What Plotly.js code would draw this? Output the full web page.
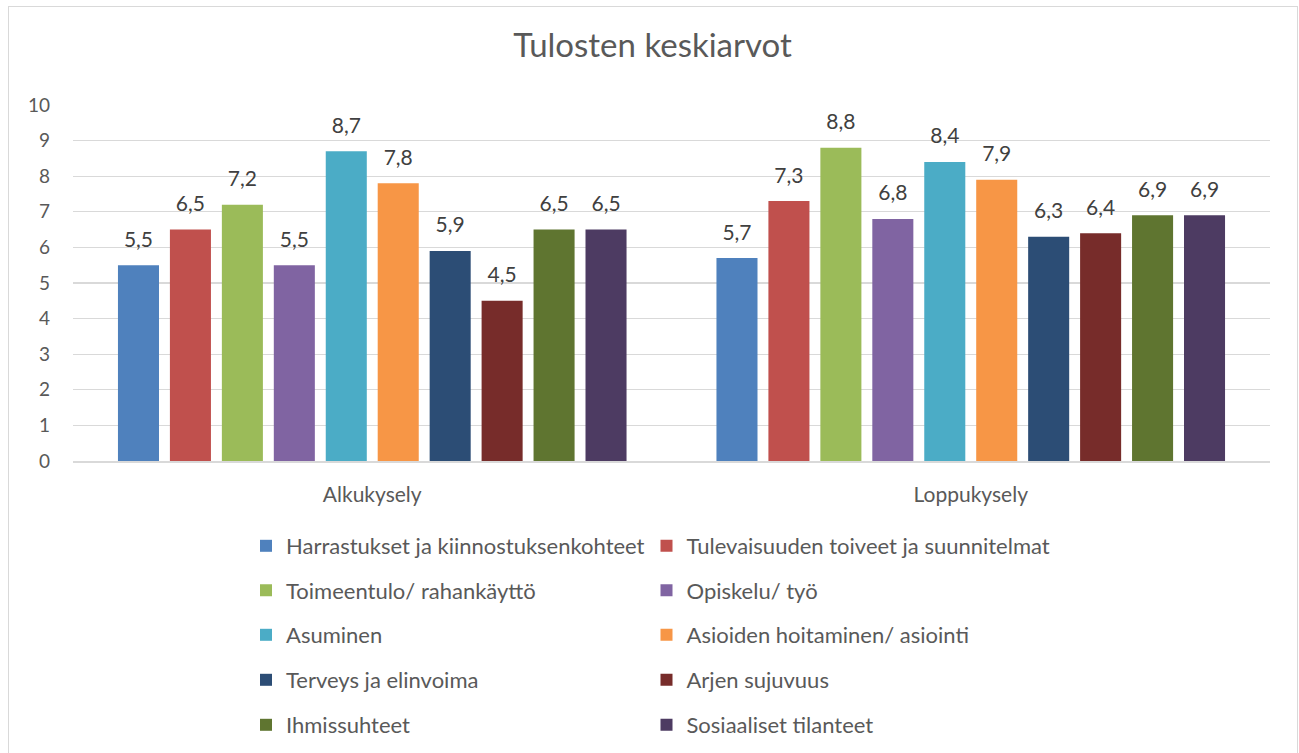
<!DOCTYPE html>
<html>
<head>
<meta charset="utf-8">
<script src="https://cdn.plot.ly/plotly-3.0.1.min.js"></script>
<style>
  html, body { margin: 0; padding: 0; background: #ffffff; overflow: hidden; }
  #wrap { position: relative; width: 1299px; height: 753px; }
  #chart { position: absolute; left: 0; top: 0; width: 1299px; height: 753px; }
  #frame { position: absolute; left: 8px; top: 6px; width: 1290px; height: 770px;
           border: 1.5px solid #d9d9d9; pointer-events: none; box-sizing: border-box; }
</style>
</head>
<body>
<div id="wrap">
  <div id="chart"></div>
  <div id="frame"></div>
</div>
<script>
const categories = ['Alkukysely', 'Loppukysely'];
const seriesNames = [
  'Harrastukset ja kiinnostuksenkohteet',
  'Tulevaisuuden toiveet ja suunnitelmat',
  'Toimeentulo/ rahankäyttö',
  'Opiskelu/ työ',
  'Asuminen',
  'Asioiden hoitaminen/ asiointi',
  'Terveys ja elinvoima',
  'Arjen sujuvuus',
  'Ihmissuhteet',
  'Sosiaaliset tilanteet'
];
const alkukysely  = [5.5, 6.5, 7.2, 5.5, 8.7, 7.8, 5.9, 4.5, 6.5, 6.5];
const loppukysely = [5.7, 7.3, 8.8, 6.8, 8.4, 7.9, 6.3, 6.4, 6.9, 6.9];
const seriesColors = ['#4F81BD', '#C0504D', '#9BBB59', '#8064A2', '#4BACC6',
                      '#F79646', '#2C4D75', '#772C2A', '#5F7530', '#4D3B62'];
const yTicks = [0, 1, 2, 3, 4, 5, 6, 7, 8, 9, 10];

const FONT = 'Lato, "Noto Sans", sans-serif';
const W = 1299, H = 753;

function fmt(v) { return v.toFixed(1).replace('.', ','); }
function label(v) {
  return '<span style="font-size:21px">' + fmt(v) + '</span><br>' +
         '<span style="font-size:3px;color:rgba(0,0,0,0)">.</span>';
}

// legend layout: two columns, five rows
const colLeft = [246, 646.5];
const rowMid = [546, 590.5, 635, 680, 725];

const traces = [];
const layout = {
  width: W, height: H,
  paper_bgcolor: '#ffffff', plot_bgcolor: '#ffffff',
  separators: ', ',
  margin: { l: 73, r: 29, t: 105, b: 292, autoexpand: false },
  barmode: 'group',
  bargap: 0.132,
  bargroupgap: 0.21,
  title: {
    text: 'Tulosten keskiarvot',
    font: { family: FONT, size: 33, color: '#595959' },
    xref: 'container', x: 652.5 / W, xanchor: 'center',
    yref: 'container', y: 1 - 45 / H, yanchor: 'middle',
    automargin: false
  },
  xaxis: {
    type: 'category',
    showline: true, linecolor: '#d9d9d9', linewidth: 1.5,
    showgrid: false, ticks: '',
    ticklabelstandoff: 14,
    automargin: false,
    tickfont: { family: FONT, size: 21, color: '#595959' }
  },
  yaxis: {
    range: [0, 10],
    tickmode: 'array', tickvals: yTicks, ticktext: yTicks.map(String),
    showgrid: true, gridcolor: '#d9d9d9', gridwidth: 1.3,
    zeroline: false, showline: false, ticks: '',
    ticklabelstandoff: 22,
    automargin: false,
    tickfont: { family: FONT, size: 19, color: '#595959' }
  },
  showlegend: true
};

seriesNames.forEach(function (name, i) {
  const legId = i === 0 ? 'legend' : 'legend' + (i + 1);
  const vals = [alkukysely[i], loppukysely[i]];
  traces.push({
    type: 'bar',
    name: name,
    x: categories,
    y: vals,
    marker: { color: seriesColors[i], line: { width: 0 } },
    text: vals.map(label),
    texttemplate: '%{text}',
    textposition: 'outside',
    constraintext: 'none',
    cliponaxis: false,
    textfont: { family: FONT, size: 11.2, color: '#404040' },
    hoverinfo: 'skip',
    legend: legId
  });
  const col = i % 2, row = Math.floor(i / 2);
  layout[legId] = {
    xref: 'container', yref: 'container',
    x: colLeft[col] / W, xanchor: 'left',
    y: 1 - rowMid[row] / H, yanchor: 'middle',
    bgcolor: 'rgba(0,0,0,0)', borderwidth: 0,
    font: { family: FONT, size: 22, color: '#595959' }
  };
});

Plotly.newPlot('chart', traces, layout, { displayModeBar: false, staticPlot: true });
</script>
</body>
</html>
